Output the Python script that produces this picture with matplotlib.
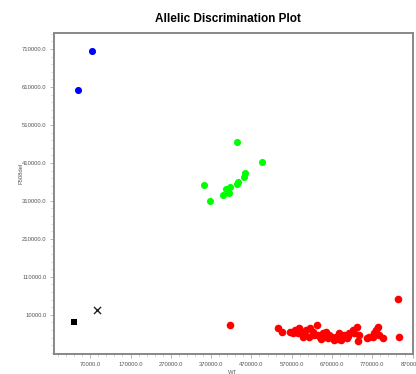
import matplotlib
matplotlib.use("Agg")
import matplotlib.pyplot as plt
from matplotlib.ticker import FixedLocator, FormatStrFormatter

# ---- data ----
blue_x = [73500, 38800]
blue_y = [704700, 602000]

green_x = [433800, 495000, 453600, 451200, 436300, 434800, 351400, 417500,
           407600, 414000, 399200, 368000]
green_y = [465300, 413400, 384500, 374000, 360800, 354700, 352100, 347600,
           341600, 331800, 325800, 310800]

red_x = [833200, 837300, 415800,
         535400, 546100, 565900, 579100, 584900, 589000, 593100, 601400,
         605500, 612100, 615400, 622000, 631900, 634400, 640200, 642600,
         646800, 655000, 659100, 663300, 675600, 679800, 688000, 692100,
         700400, 706200, 708600, 712800, 721000, 730900, 733400, 735900,
         755700, 762300, 774600, 780400, 782900, 787000, 795300,
         572500, 597300, 626100, 650900, 669900, 683900, 696300, 725100,
         770500]
red_y = [52100, -47000, -16300,
         -25100, -33800, -33800, -29500, -38200, -25100, -33800, -42600,
         -29500, -48700, -25100, -33800, -16300, -42600, -47000, -54000,
         -38200, -33800, -51400, -42600, -55800, -47000, -38200, -55800,
         -42600, -51400, -45200, -38200, -29500, -20700, -60100, -42600,
         -51400, -47000, -38200, -29500, -20700, -42600, -51400,
         -36500, -47000, -42600, -48700, -48700, -54000, -47000, -38200,
         -48700]

ntc_x = [29700]
ntc_y = [-7600]
undet_x = [85800]
undet_y = [23000]

x_ticks = [70000, 170000, 270000, 370000, 470000, 570000, 670000, 770000, 870000]
y_ticks = [10000, 110000, 210000, 310000, 410000, 510000, 610000, 710000]

title = "Allelic Discrimination Plot"
x_label = "WT"
y_label = "F508del"

# ---- figure ----
fig = plt.figure(figsize=(4.16, 3.74), dpi=100)
ax = fig.add_axes([0.1298, 0.0535, 0.8630, 0.8583])

ax.scatter(blue_x, blue_y, s=26, c="#0000ff", linewidths=0, zorder=3)
ax.scatter(green_x, green_y, s=26, c="#00ff00", linewidths=0, zorder=3)
ax.scatter(red_x, red_y, s=30, c="#ff0000", linewidths=0, zorder=3)
ax.scatter(ntc_x, ntc_y, s=22, c="black", marker="s", linewidths=0, zorder=3)
ax.scatter(undet_x, undet_y, s=26, c="#222222", marker="x", linewidths=1.0, zorder=3)

ax.set_xlim(-20000, 871000)
ax.set_ylim(-93000, 752000)

ax.xaxis.set_major_locator(FixedLocator(x_ticks))
ax.yaxis.set_major_locator(FixedLocator(y_ticks))
ax.xaxis.set_minor_locator(FixedLocator([v for v in range(-10000, 871000, 20000)]))
ax.yaxis.set_minor_locator(FixedLocator([v for v in range(-90000, 752000, 20000)]))
ax.xaxis.set_major_formatter(FormatStrFormatter("%.1f"))
ax.yaxis.set_major_formatter(FormatStrFormatter("%.1f"))

for lab in ax.get_xticklabels() + ax.get_yticklabels():
    lab.set_fontfamily("Liberation Sans")
    lab.set_fontsize(4.2)
    lab.set_color("#555555")

ax.tick_params(which="major", length=3, width=0.6, color="#aaaaaa", pad=2.5)
ax.tick_params(which="minor", length=2, width=0.5, color="#cccccc")

for sp in ax.spines.values():
    sp.set_color("#888888")
    sp.set_linewidth(1.4)

fig.text(0.547, 0.949, title, ha="center", va="center",
         fontsize=8.5, fontweight="bold", family="Liberation Sans")
fig.text(0.050, 0.535, y_label, ha="center", va="center", rotation=90,
         fontsize=4.2, color="#555555", family="Liberation Sans")
fig.text(0.558, 0.004, x_label, ha="center", va="center",
         fontsize=4.2, color="#555555", family="Liberation Sans")

fig.savefig("out.png", dpi=100)
